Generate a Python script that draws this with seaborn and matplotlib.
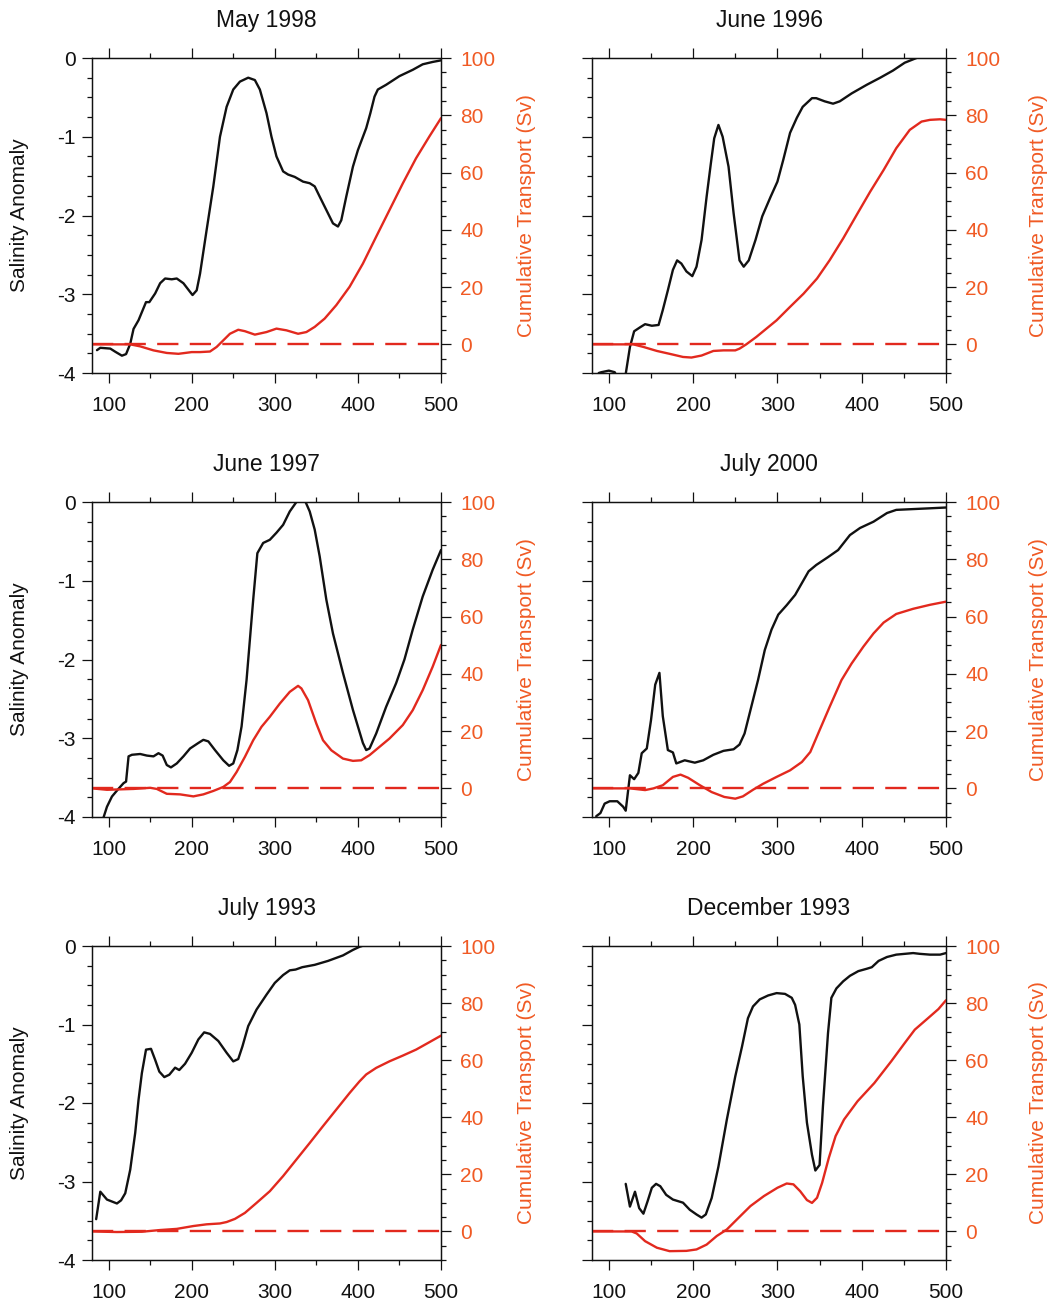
import numpy as np
import pandas as pd
import matplotlib
matplotlib.use("Agg")
import matplotlib.pyplot as plt
from matplotlib.ticker import MultipleLocator
import seaborn as sns

# ---------------- data ----------------
titles = ["May 1998", "June 1996", "June 1997", "July 2000", "July 1993", "December 1993"]

# May 1998
x_sal_may98 = [86,90,102,108,116,121,126,130,136,145,149,156,162,168,176,182,190,198,201,206,210,218,226,234,242,
               250,258,268,276,282,290,296,302,310,316,324,334,342,348,354,362,370,376,380,386,394,400,410,415,420,
               424,434,450,466,478,490,500]
sal_may98 = [-3.71,-3.68,-3.69,-3.73,-3.78,-3.76,-3.63,-3.44,-3.33,-3.10,-3.10,-2.99,-2.86,-2.80,-2.81,-2.80,-2.86,
             -2.97,-3.01,-2.95,-2.74,-2.18,-1.63,-1.00,-0.62,-0.40,-0.30,-0.25,-0.28,-0.40,-0.70,-1.00,-1.25,-1.44,
             -1.48,-1.51,-1.57,-1.59,-1.63,-1.76,-1.93,-2.10,-2.14,-2.06,-1.76,-1.38,-1.17,-0.89,-0.70,-0.49,-0.40,
             -0.34,-0.23,-0.15,-0.08,-0.05,-0.03]
x_tr_may98 = [80,126,138,154,170,184,200,210,222,230,238,246,256,264,276,290,302,314,328,338,348,360,374,390,406,
              422,438,454,470,486,500]
tr_may98 = [0,0,-0.7,-2.1,-3.0,-3.3,-2.7,-2.7,-2.5,-0.9,1.4,3.7,5.1,4.6,3.4,4.3,5.5,4.9,3.7,4.3,6.1,9.0,13.7,20.1,
            28.2,37.6,46.9,56.2,65.0,72.6,79.0]

# June 1996
x_sal_jun96 = [88,91,100,107,111,119,125,130,137,143,151,159,164,170,176,181,186,192,199,204,210,216,221,225,230,
               235,242,248,255,260,266,274,282,292,300,307,315,323,330,341,346,356,366,374,388,406,422,437,451,465]
sal_jun96 = [-4.0,-3.99,-3.97,-3.99,-4.08,-4.08,-3.67,-3.47,-3.42,-3.38,-3.40,-3.39,-3.20,-2.95,-2.69,-2.57,-2.61,
             -2.71,-2.77,-2.65,-2.31,-1.76,-1.34,-1.02,-0.85,-1.00,-1.38,-1.97,-2.57,-2.65,-2.57,-2.31,-2.01,-1.76,
             -1.57,-1.29,-0.95,-0.76,-0.62,-0.51,-0.51,-0.55,-0.58,-0.55,-0.45,-0.34,-0.25,-0.16,-0.06,0.0]
x_tr_jun96 = [80,129,141,157,172,188,198,210,224,236,250,255,263,275,287,299,315,331,347,362,378,394,410,426,441,
              457,471,481,493,500]
tr_jun96 = [0,0,-0.9,-2.3,-3.3,-4.4,-4.6,-3.9,-2.3,-2.1,-2.1,-1.5,0,2.6,5.5,8.4,13.1,17.7,23.0,29.4,37.0,45.2,53.3,
            60.9,68.5,74.9,77.8,78.4,78.6,78.4]

# June 1997
x_sal_jun97 = [91,98,104,112,118,121,124,128,138,146,154,160,165,170,175,182,190,198,208,214,220,228,238,245,250,
               255,260,266,274,279,286,294,302,310,318,326,332,337,342,348,354,362,370,382,394,406,410,414,422,434,
               446,456,466,478,490,500]
sal_jun97 = [-4.1,-3.87,-3.74,-3.64,-3.57,-3.55,-3.23,-3.21,-3.20,-3.22,-3.23,-3.19,-3.22,-3.34,-3.37,-3.32,-3.23,
             -3.13,-3.06,-3.02,-3.04,-3.15,-3.28,-3.35,-3.32,-3.15,-2.85,-2.26,-1.24,-0.65,-0.52,-0.48,-0.39,-0.29,
             -0.12,0.0,0.05,0.0,-0.12,-0.35,-0.69,-1.24,-1.67,-2.17,-2.64,-3.06,-3.15,-3.13,-2.94,-2.60,-2.30,-2.00,
             -1.62,-1.20,-0.86,-0.61]
x_tr_jun97 = [80,98,130,150,158,170,186,202,214,226,238,246,254,264,274,284,294,306,318,328,332,340,350,358,368,
              382,394,404,414,426,438,454,466,478,490,500]
tr_jun97 = [0,-0.5,-0.2,0.2,-0.2,-1.9,-2.1,-2.8,-2.1,-0.9,0.5,2.2,5.7,11.0,16.8,21.5,25.0,29.6,33.7,35.8,34.9,30.8,
            22.6,16.8,13.3,10.4,9.6,9.8,11.6,14.5,17.4,22.1,27.3,34.3,42.5,50.1]

# July 2000
x_sal_jul00 = [85,90,95,101,110,117,120,125,130,135,139,145,150,155,160,164,170,176,180,190,202,212,224,236,248,
               255,261,269,277,285,293,301,311,321,329,337,346,360,372,386,398,414,430,441,461,481,500]
sal_jul00 = [-3.99,-3.95,-3.83,-3.80,-3.80,-3.87,-3.92,-3.47,-3.52,-3.44,-3.19,-3.13,-2.77,-2.32,-2.17,-2.72,-3.15,
             -3.18,-3.32,-3.28,-3.31,-3.28,-3.21,-3.16,-3.14,-3.08,-2.94,-2.60,-2.26,-1.88,-1.62,-1.43,-1.31,-1.18,
             -1.03,-0.88,-0.80,-0.70,-0.61,-0.42,-0.33,-0.25,-0.14,-0.10,-0.09,-0.08,-0.07]
x_tr_jul00 = [80,125,143,153,164,176,185,194,208,222,237,250,259,271,283,299,315,329,339,350,362,376,388,402,414,
              426,441,461,481,500]
tr_jul00 = [0,0,-0.6,0,1.1,4.0,4.8,3.7,1.1,-1.3,-3.0,-3.6,-2.8,-0.5,1.6,4.0,6.3,9.2,12.7,20.3,28.5,37.8,43.6,49.5,
            54.1,57.9,60.9,62.7,64.1,65.2]

# July 1993
x_sal_jul93 = [85,90,98,110,115,120,126,132,136,140,145,151,156,161,167,173,180,185,192,200,208,215,222,232,242,
               250,256,261,268,278,290,300,310,318,325,333,348,364,382,394,402,405]
sal_jul93 = [-3.48,-3.13,-3.23,-3.28,-3.24,-3.15,-2.85,-2.38,-1.96,-1.62,-1.32,-1.31,-1.45,-1.60,-1.67,-1.64,-1.55,
             -1.58,-1.50,-1.36,-1.19,-1.10,-1.12,-1.21,-1.36,-1.47,-1.44,-1.28,-1.02,-0.81,-0.62,-0.47,-0.37,-0.31,
             -0.30,-0.27,-0.24,-0.19,-0.12,-0.05,-0.01,0.0]
x_tr_jul93 = [80,110,140,162,182,202,218,234,242,252,264,278,294,310,326,342,358,374,390,402,410,422,438,454,470,
              486,500]
tr_jul93 = [0,-0.2,-0.1,0.5,0.9,1.9,2.5,2.8,3.3,4.4,6.5,10.0,14.1,19.4,25.2,31.0,36.9,42.7,48.5,52.6,55.0,57.3,
            59.6,61.6,63.7,66.3,68.6]

# December 1993
x_sal_dec93 = [120,125,131,136,141,146,151,156,161,168,176,188,196,204,210,215,222,230,240,250,258,265,271,279,289,
               299,309,317,321,326,330,335,341,345,350,354,360,364,370,378,386,396,406,412,420,430,441,461,469,481,
               493,500]
sal_dec93 = [-3.03,-3.32,-3.13,-3.34,-3.41,-3.25,-3.08,-3.03,-3.06,-3.17,-3.23,-3.27,-3.36,-3.42,-3.46,-3.42,-3.21,
             -2.81,-2.21,-1.66,-1.28,-0.92,-0.77,-0.68,-0.63,-0.60,-0.61,-0.66,-0.75,-1.00,-1.66,-2.25,-2.66,-2.86,
             -2.79,-2.04,-1.11,-0.66,-0.54,-0.45,-0.38,-0.32,-0.29,-0.27,-0.19,-0.14,-0.11,-0.09,-0.10,-0.11,-0.11,
             -0.09]
x_tr_dec93 = [80,127,133,143,157,172,192,204,216,228,240,256,268,284,300,311,319,327,335,341,347,353,361,369,379,
              395,415,435,451,463,479,491,500]
tr_dec93 = [0,0,-0.7,-3.4,-5.7,-6.9,-6.8,-6.3,-4.6,-1.6,0.7,5.4,8.9,12.4,15.3,16.8,16.5,14.1,11.0,10.0,11.8,17.0,
            25.8,33.4,39.2,45.6,52.0,59.6,66.0,70.7,74.8,77.9,81.0]

x_ticks = [100, 200, 300, 400, 500]
sal_ticks = [0, -1, -2, -3, -4]
tr_ticks = [0, 20, 40, 60, 80, 100]
ylabel_left = "Salinity Anomaly"
ylabel_right = "Cumulative Transport (Sv)"

panels = [
    (x_sal_may98, sal_may98, x_tr_may98, tr_may98),
    (x_sal_jun96, sal_jun96, x_tr_jun96, tr_jun96),
    (x_sal_jun97, sal_jun97, x_tr_jun97, tr_jun97),
    (x_sal_jul00, sal_jul00, x_tr_jul00, tr_jul00),
    (x_sal_jul93, sal_jul93, x_tr_jul93, tr_jul93),
    (x_sal_dec93, sal_dec93, x_tr_dec93, tr_dec93),
]

# ---------------- style ----------------
sns.set_theme(style="ticks")
plt.rcParams["font.family"] = ["Liberation Sans", "DejaVu Sans"]
plt.rcParams["axes.unicode_minus"] = False
plt.rcParams["axes.linewidth"] = 0.9
plt.rcParams["axes.edgecolor"] = "#111111"

BLACK = "#111111"
RED = "#E2291E"
ORANGE = "#F05A24"
LW = 1.7

W, H = 1051, 1304
fig = plt.figure(figsize=(W / 100, H / 100), dpi=100)

col_px = [(92, 441), (592, 946)]
row_px = [(58, 373), (502, 817), (946, 1260)]

for i, (title, (xs, ss, xt, tt)) in enumerate(zip(titles, panels)):
    r, c = divmod(i, 2)
    x0, x1 = col_px[c]
    y0, y1 = row_px[r]
    ax = fig.add_axes([x0 / W, 1 - y1 / H, (x1 - x0) / W, (y1 - y0) / H])
    ax2 = ax.twinx()

    df_s = pd.DataFrame({"x": xs, "s": ss})
    df_t = pd.DataFrame({"x": xt, "t": tt})
    sns.lineplot(data=df_s, x="x", y="s", ax=ax, color=BLACK, lw=LW, sort=False, estimator=None)
    sns.lineplot(data=df_t, x="x", y="t", ax=ax2, color=RED, lw=LW, sort=False, estimator=None)
    ax2.axhline(0, color=RED, lw=LW, dashes=(9, 4.8))

    ax.set_xlim(80, 500)
    ax.set_ylim(-4, 0)
    ax2.set_ylim(-10, 100)
    ax.set_xticks(x_ticks)
    ax.xaxis.set_minor_locator(MultipleLocator(50))
    ax.set_yticks(sal_ticks)
    ax.yaxis.set_minor_locator(MultipleLocator(0.25))
    ax2.set_yticks(tr_ticks)
    ax2.yaxis.set_minor_locator(MultipleLocator(5))

    ax.set_xlabel("")
    ax.set_ylabel("")
    ax2.set_ylabel("")
    for a in (ax, ax2):
        for sp in a.spines.values():
            sp.set_visible(True)
            sp.set_linewidth(0.9)
            sp.set_color(BLACK)

    ax.tick_params(axis="x", which="both", top=True, bottom=True, direction="out",
                   colors=BLACK, width=0.9)
    ax.tick_params(axis="x", which="major", length=7.2, pad=9.5, labelsize=15)
    ax.tick_params(axis="x", which="minor", length=3.6)
    ax.tick_params(axis="y", which="both", left=True, right=False, direction="out",
                   colors=BLACK, width=0.9, labelleft=(c == 0))
    ax.tick_params(axis="y", which="major", length=7.2, pad=4.5, labelsize=15)
    ax.tick_params(axis="y", which="minor", length=3.6)
    ax2.tick_params(axis="y", which="both", right=True, left=False, direction="out",
                    color=BLACK, width=0.9, labelcolor=ORANGE)
    ax2.tick_params(axis="y", which="major", length=7.2, pad=6.5, labelsize=15)
    ax2.tick_params(axis="y", which="minor", length=3.6)

    ax.text(0.5, 1.0 + 31 / (y1 - y0), title, transform=ax.transAxes, ha="center",
            va="baseline", fontsize=16.5, color=BLACK)

    yc = 1 - (y0 + y1) / 2 / H
    if c == 0:
        fig.text(20 / W, yc, ylabel_left, rotation=90, ha="center", va="center",
                 fontsize=15, color=BLACK)
        rx = 526
    else:
        rx = 1038
    fig.text(rx / W, yc, ylabel_right, rotation=90, ha="center", va="center",
             fontsize=15, color=ORANGE)

fig.savefig("out.png", dpi=100)
